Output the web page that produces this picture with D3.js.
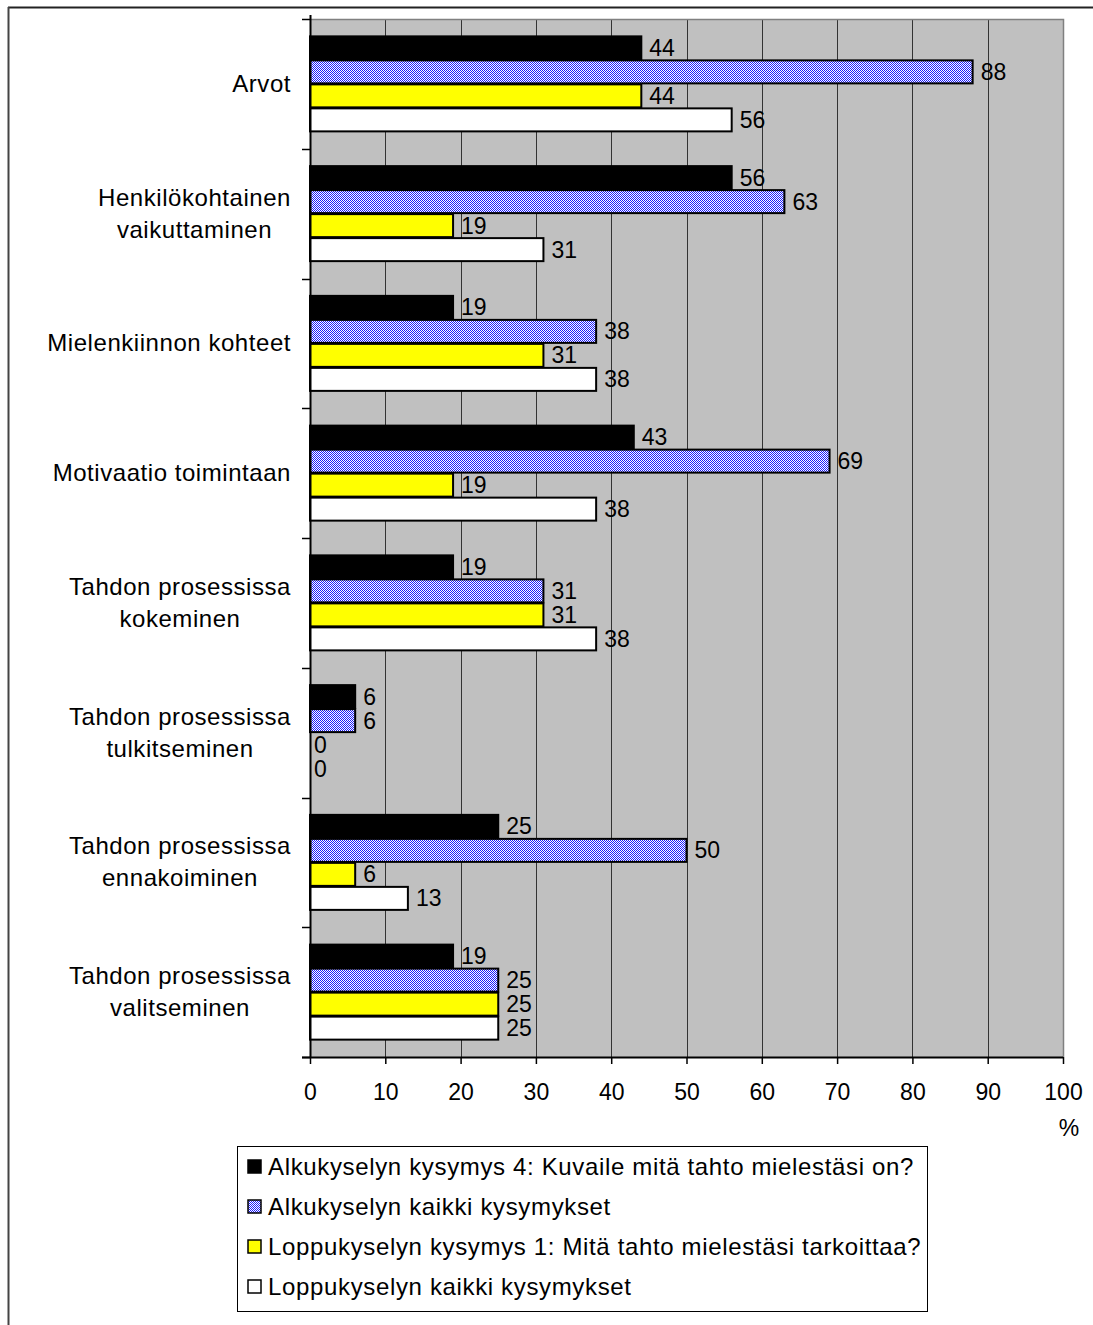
<!DOCTYPE html>
<html><head><meta charset="utf-8">
<script src="https://cdn.jsdelivr.net/npm/d3@7"></script>
<style>body{margin:0;background:#fff;} svg{display:block;font-family:Arial,"Liberation Sans",sans-serif;}</style>
</head><body>
<script>
const categories = [
  ["Arvot"],
  ["Henkilökohtainen","vaikuttaminen"],
  ["Mielenkiinnon kohteet"],
  ["Motivaatio toimintaan"],
  ["Tahdon prosessissa","kokeminen"],
  ["Tahdon prosessissa","tulkitseminen"],
  ["Tahdon prosessissa","ennakoiminen"],
  ["Tahdon prosessissa","valitseminen"]
];
const seriesNames = [
  "Alkukyselyn kysymys 4: Kuvaile mitä tahto mielestäsi on?",
  "Alkukyselyn kaikki kysymykset",
  "Loppukyselyn kysymys 1: Mitä tahto mielestäsi tarkoittaa?",
  "Loppukyselyn kaikki kysymykset"
];
const alku4   = [44, 56, 19, 43, 19, 6, 25, 19];
const alkuAll = [88, 63, 38, 69, 31, 6, 50, 25];
const loppu1  = [44, 19, 31, 19, 31, 0, 6, 25];
const loppuAll= [56, 31, 38, 38, 38, 0, 13, 25];
const seriesValues = [alku4, alkuAll, loppu1, loppuAll];
const xTicks = [0,10,20,30,40,50,60,70,80,90,100];

(function(){
const W = 1093, H = 1325;
const FF = "Arial,'Liberation Sans',sans-serif";
const svg = d3.select("body").append("svg").attr("width", W).attr("height", H);
const defs = svg.append("defs");
const pat = defs.append("pattern").attr("id","hatch").attr("patternUnits","userSpaceOnUse")
  .attr("width",2).attr("height",2);
pat.append("rect").attr("width",2).attr("height",2).attr("fill","#ffffff");
pat.append("rect").attr("x",0).attr("y",0).attr("width",1).attr("height",1).attr("fill","#1a1aff");
pat.append("rect").attr("x",1).attr("y",1).attr("width",1).attr("height",1).attr("fill","#1a1aff");
const fills = ["#000000","url(#hatch)","#ffff00","#ffffff"];

// outer frame
svg.append("line").attr("x1",8).attr("x2",W).attr("y1",7.5).attr("y2",7.5).attr("stroke","#222").attr("stroke-width",2);
svg.append("line").attr("x1",8.5).attr("x2",8.5).attr("y1",7).attr("y2",H).attr("stroke","#444").attr("stroke-width",2);

const pL = 310, pR = 1063, pT = 19, pB = 1057;
const x = d3.scaleLinear().domain([0,100]).range([pL,pR]);
const y = d3.scaleBand().domain(d3.range(categories.length)).range([pT,pB]).paddingInner(0.26).paddingOuter(0.13);
const ys = d3.scaleBand().domain(d3.range(4)).range([0,y.bandwidth()]).padding(0);

svg.append("rect").attr("x",pL).attr("y",pT).attr("width",pR-pL).attr("height",pB-pT).attr("fill","#c0c0c0");
svg.append("g").selectAll("line").data(xTicks.slice(1,-1)).join("line")
  .attr("x1",d=>Math.round(x(d))+0.5).attr("x2",d=>Math.round(x(d))+0.5)
  .attr("y1",pT).attr("y2",pB).attr("stroke","#333").attr("stroke-width",1);
svg.append("path").attr("d",`M${pL},${pT+0.5}H${pR+0.5}V${pB}`).attr("fill","none").attr("stroke","#808080").attr("stroke-width",1.5);

const g = svg.append("g");
categories.forEach((c,i)=>{
  seriesValues.forEach((vals,s)=>{
    const v = vals[i];
    const by = y(i) + ys(s);
    const bh = ys.bandwidth();
    if (v > 0) {
      g.append("rect").attr("x",x(0)).attr("y",by+0.5).attr("width",x(v)-x(0)).attr("height",bh-1)
        .attr("fill",fills[s]).attr("stroke","#000").attr("stroke-width",2);
    }
    g.append("text").attr("x",x(v)+ (v>0?8:4)).attr("y",by+bh/2+8)
      .attr("font-size",23).attr("fill","#000").text(v);
  });
});

svg.append("line").attr("x1",pL+0.5).attr("x2",pL+0.5).attr("y1",pT-4).attr("y2",pB).attr("stroke","#000").attr("stroke-width",2);
const yTickPos = d3.range(categories.length+1).map(i=> pT + i*(pB-pT)/categories.length);
svg.append("g").selectAll("line").data(yTickPos).join("line")
  .attr("x1",pL-8).attr("x2",pL).attr("y1",d=>Math.round(d)+0.5).attr("y2",d=>Math.round(d)+0.5)
  .attr("stroke","#000").attr("stroke-width",1.5);

const xAxis = svg.append("g").attr("transform",`translate(0,${pB})`)
  .call(d3.axisBottom(x).tickValues(xTicks).tickSize(7).tickPadding(20).tickFormat(d3.format("d")));
xAxis.select(".domain").attr("stroke","#000").attr("stroke-width",2).attr("d",`M${pL-8},0.5H${pR}`);
xAxis.selectAll(".tick line").attr("stroke","#000").attr("stroke-width",1.5);
xAxis.selectAll(".tick text").attr("font-size",23).attr("fill","#000").attr("font-family",FF);
svg.append("text").attr("x",1069).attr("y",1136).attr("text-anchor","middle").attr("font-size",23).text("%");

categories.forEach((c,i)=>{
  const cy = pT + (i+0.5)*(pB-pT)/categories.length;
  const lh = 32;
  const t = svg.append("text").attr("font-size",24).attr("letter-spacing",0.55).attr("fill","#000");
  const tmp = svg.append("text").attr("font-size",24).attr("letter-spacing",0.55);
  const widths = c.map(l=>{tmp.text(l); return tmp.node().getComputedTextLength();});
  tmp.remove();
  const maxW = d3.max(widths);
  const cx = 291 - maxW/2;
  c.forEach((l,k)=>{
    t.append("tspan").attr("x",cx).attr("text-anchor","middle")
      .attr("y", cy - (c.length-1)*lh/2 + k*lh + 8).text(l);
  });
});

const lg = svg.append("g");
lg.append("rect").attr("x",237.5).attr("y",1146.5).attr("width",690).attr("height",165).attr("fill","#fff").attr("stroke","#000").attr("stroke-width",1);
seriesNames.forEach((n,s)=>{
  const ly = 1166 + s*40;
  lg.append("rect").attr("x",248).attr("y",ly-6).attr("width",13).attr("height",13)
    .attr("fill",fills[s]).attr("stroke","#000").attr("stroke-width",1.5);
  lg.append("text").attr("x",268).attr("y",ly+9).attr("font-size",24).attr("letter-spacing",0.65).attr("fill","#000").text(n);
});
})();
</script>
</body></html>
